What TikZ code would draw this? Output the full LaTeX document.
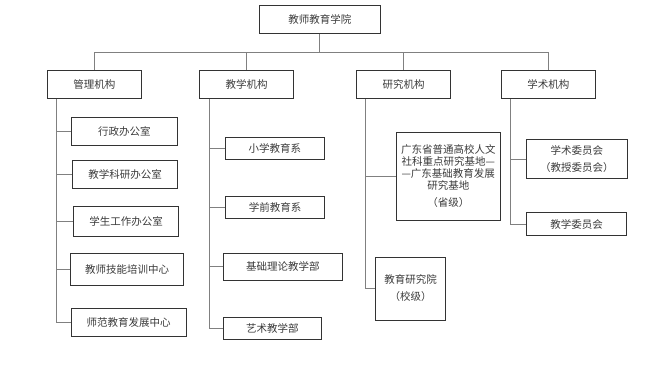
\documentclass[tikz,border=0pt]{standalone}
\usepackage{fontspec}
\newfontfamily\cjk{Noto Sans CJK SC}
\definecolor{boxline}{HTML}{333333}
\definecolor{linkline}{HTML}{808080}
\definecolor{boxtext}{HTML}{3A3A3A}

\begin{document}
\begin{tikzpicture}[x=1pt,y=-1pt,
  box/.style={draw=boxline,line width=0.8pt,text=boxtext,inner sep=0pt,align=center,
    font=\cjk\fontsize{10.5}{12}\selectfont},
  link/.style={draw=linkline,line width=0.8pt}]

\useasboundingbox (0,0) rectangle (648,365);

\node[box,minimum width=121,minimum height=28] (top) at (319.8,19.3) {教师教育学院};

\node[box,minimum width=94,minimum height=28] (gl) at (94.3,84.7) {管理机构};
\node[box,minimum width=94,minimum height=28] (jx) at (246.5,84.7) {教学机构};
\node[box,minimum width=94,minimum height=28] (yj) at (403.5,84.7) {研究机构};
\node[box,minimum width=94,minimum height=28] (xs) at (548.3,84.7) {学术机构};

% 总线
\coordinate (bus) at (319.8,52);
\draw[link] (top) -- (bus);
\draw[link] (bus) -| (gl);
\draw[link] (bus) -| (jx);
\draw[link] (bus) -| (yj);
\draw[link] (bus) -| (xs);

% 管理机构
\node[box,minimum width=105.3,minimum height=28] (xz) at (124.4,131.3) {行政办公室};
\node[box,minimum width=105.4,minimum height=27.6] (ky) at (125,174.5) {教学科研办公室};
\node[box,minimum width=104.6,minimum height=30] (xsgz) at (126,221) {学生工作办公室};
\node[box,minimum width=113,minimum height=32] (jn) at (127.2,269.3) {教师技能培训中心};
\node[box,minimum width=114.7,minimum height=28] (sf) at (128.7,322.3) {师范教育发展中心};

\foreach \n in {xz,ky,xsgz,jn,sf}
  \draw[link] ([xshift=9.4pt]gl.south west) |- (\n);

% 教学机构
\node[box,minimum width=99,minimum height=22] (xj) at (274.8,148.3) {小学教育系};
\node[box,minimum width=99,minimum height=22] (xq) at (275,207.3) {学前教育系};
\node[box,minimum width=119.7,minimum height=27] (jc) at (282.8,266.8) {基础理论教学部};
\node[box,minimum width=98,minimum height=22] (ys) at (272.3,328.5) {艺术教学部};

\foreach \n in {xj,xq,jc,ys}
  \draw[link] ([xshift=10pt]jx.south west) |- (\n);

% 研究机构
\node[box,minimum width=104.7,minimum height=87.3] (jd) at (448.3,176.3)
  {广东省普通高校人文\\社科重点研究基地—\\—广东基础教育发展\\研究基地\\[5pt]（省级）};
\node[box,minimum width=70.4,minimum height=63] (yjy) at (410.5,288.5)
  {教育研究院\\[5pt]（校级）};

\draw[link] ([xshift=9pt]yj.south west) |- (jd);
\draw[link] ([xshift=9pt]yj.south west) |- (yjy);

% 学术机构
\node[box,minimum width=101,minimum height=39.4] (xswy) at (576.8,159)
  {学术委员会\\[5pt]（教授委员会）};
\node[box,minimum width=100.4,minimum height=22.6] (jxwy) at (576.5,224) {教学委员会};

\draw[link] ([xshift=9.7pt]xs.south west) |- (xswy);
\draw[link] ([xshift=9.7pt]xs.south west) |- (jxwy);

\end{tikzpicture}
\end{document}
